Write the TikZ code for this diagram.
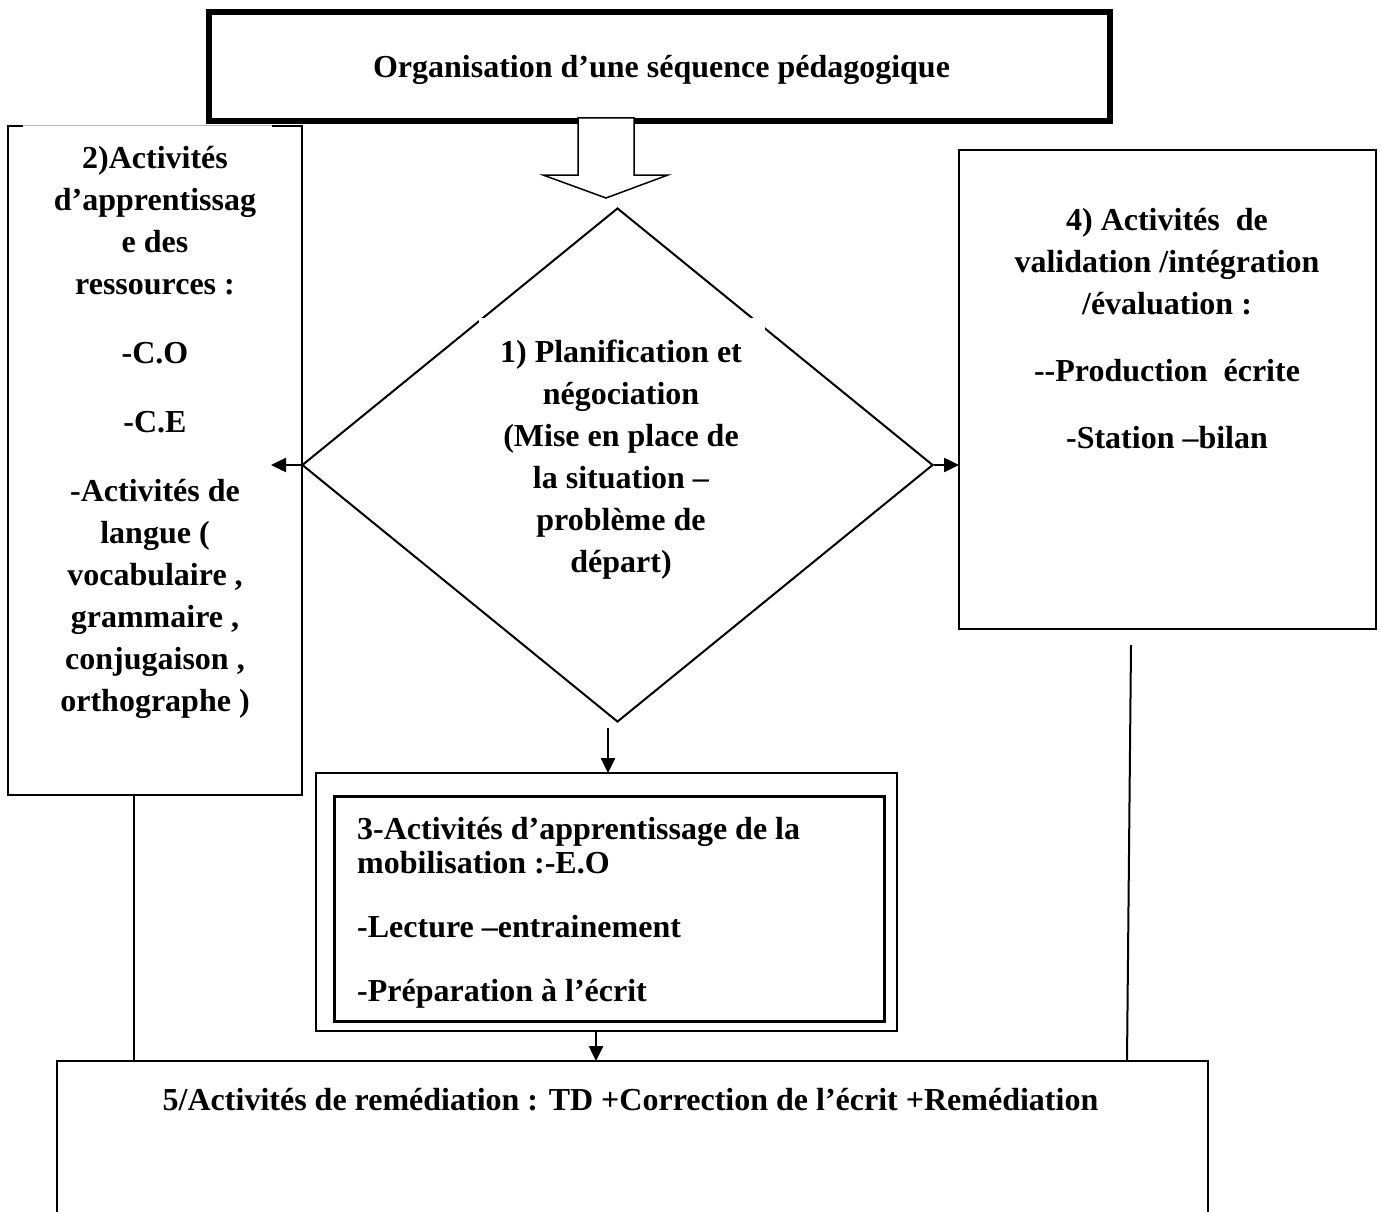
\documentclass[tikz,border=0pt]{standalone}
\usepackage{fontspec}
\setmainfont{Liberation Serif}
\usetikzlibrary{arrows.meta,shapes.geometric}
\tikzset{
  box/.style={draw, line width=2pt, inner sep=0pt, outer sep=0pt},
  txt/.style={font=\bfseries\fontsize{32pt}{42pt}\selectfont, inner sep=0pt, align=center, anchor=north},
  onetxt/.style={font=\bfseries\fontsize{32pt}{42pt}\selectfont, inner sep=0pt, anchor=base},
  conn/.style={line width=2pt},
  arr/.style={line width=2.5pt, -{Triangle[length=15pt,width=14pt]}},
}
\begin{document}
\begin{tikzpicture}[x=1pt,y=-1pt]
\clip (0,0) rectangle (1381,1212);
\fill[white] (0,0) rectangle (1381,1212);

% top box
\node[box, line width=6pt, minimum width=901pt, minimum height=109pt] (b0) at (659.5,66.5) {};
\node[onetxt] (t0) at (661.5,78) {Organisation d’une séquence pédagogique};

% hollow block arrow
\draw[line width=1.5pt, fill=white] (578,118) -- (578,175) -- (543,175) -- (606,198) -- (668,175) -- (634,175) -- (634,118) -- cycle;

% box 2
\node[inner sep=0pt, outer sep=0pt, minimum width=294pt, minimum height=669pt] (b2) at (155,460.5) {};
\draw[line width=2pt] (b2.north west) -- (b2.south west) -- (b2.south east) -- (b2.north east);
\draw[line width=2pt] ([xshift=-1pt]b2.north west) -- ([xshift=15pt]b2.north west);
\draw[line width=2pt] ([xshift=1pt]b2.north east) -- ([xshift=-30pt]b2.north east);
\draw[gray!55, line width=1pt] ([xshift=15pt]b2.north west) -- ([xshift=-30pt]b2.north east);
\node[txt] (t2) at (155,138.6) {\strut 2)Activités\\ d’apprentissag\\ e des\\ ressources :\\[27pt] -C.O\\[27pt] -C.E\\[27pt] -Activités de\\ langue (\\ vocabulaire ,\\ grammaire ,\\ conjugaison ,\\ orthographe )};

% diamond
\node[diamond, draw, line width=2pt, inner sep=0pt, minimum width=631pt, minimum height=514pt] (d) at (617.5,465) {};
\fill[white] (479,318) rectangle (765,600);
\node[txt] (t1) at (621,332.6) {\strut 1) Planification et\\ négociation\\ (Mise en place de\\ la situation –\\ problème de\\ départ)};

% box 4
\node[box, minimum width=417pt, minimum height=479pt] (b4) at (1167.5,389.5) {};
\node[txt] (t4) at (1167,200.6) {\strut 4) Activités\ \ de\\ validation /intégration\\ /évaluation :\\[25pt] -{}-Production\ \ écrite\\[25pt] -Station –bilan};

% box 3 (double frame)
\node[box, minimum width=581pt, minimum height=258pt] (b3o) at (606.5,902) {};
\node[box, line width=3pt, minimum width=550pt, minimum height=225pt] (b3i) at (609,908.5) {};
\node[txt, align=left, anchor=north west, font=\bfseries\fontsize{32pt}{34pt}\selectfont] (t3) at (357,815.2) {\strut 3-Activités d’apprentissage de la\\ mobilisation :-E.O\\[30pt] -Lecture –entrainement\\[30pt] -Préparation à l’écrit};

% box 5
\node[box, line width=2.5pt, minimum width=1151pt, minimum height=170pt] (b5) at (632.5,1146) {};
\node[onetxt] (t5) at (630.5,1110) {5/Activités de remédiation : TD +Correction de l’écrit +Remédiation};

% connectors
\coordinate (la) at (271,465);
\draw[arr] (d.west) -- (la);
\draw[arr] (d.east) -- (d.east -| b4.west);
\coordinate (da) at (608,728);
\draw[arr] (da) -- (da |- b3o.north);
\coordinate (db) at (596,1031);
\draw[arr] (db) -- (db |- b5.north);
\coordinate (l1) at (134,795);
\draw[conn] (l1) -- (l1 |- b5.north);
\coordinate (r1) at (1131,645);
\coordinate (r2) at (1127,1061);
\draw[conn] (r1) -- (r2);
\end{tikzpicture}
\end{document}
